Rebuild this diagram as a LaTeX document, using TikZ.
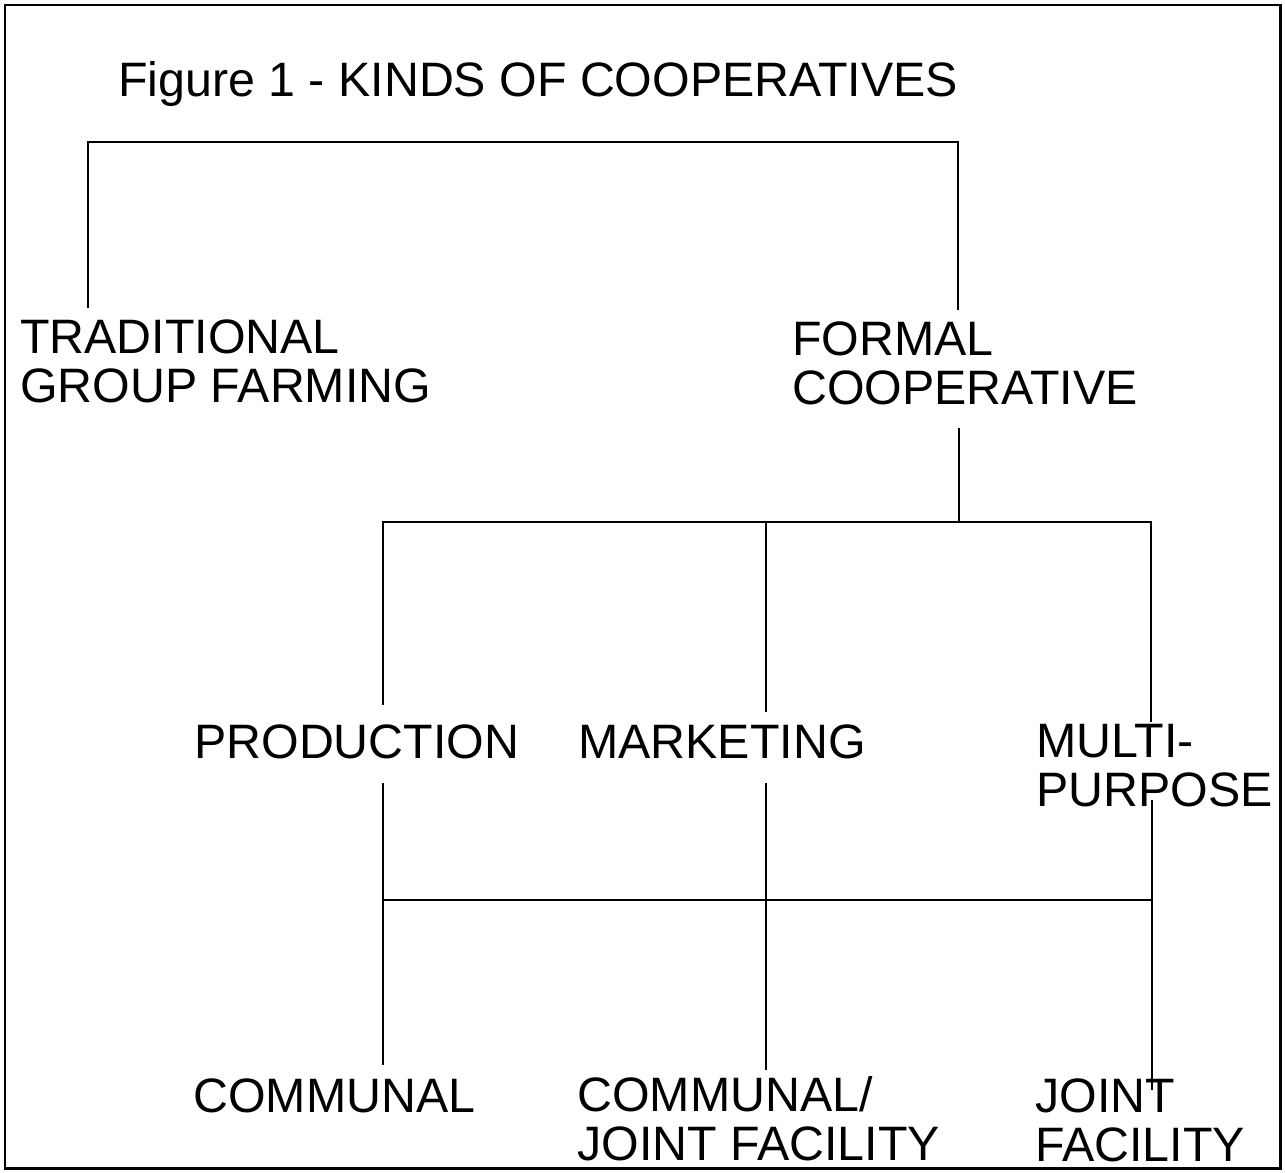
\documentclass[tikz,border=0pt]{standalone}
\usepackage{fontspec}
\setmainfont{Liberation Sans}
\tikzset{
  kind/.style={anchor=base west, inner sep=0pt, align=left, font=\fontsize{27.5}{27.5}\selectfont},
  tie/.style={line width=1.4pt},
  frame/.style={line width=1.7pt}
}

\begin{document}
\begin{tikzpicture}[x=0.02cm, y=-0.02cm]
  \useasboundingbox (0,0) rectangle (1285,1173);
  \draw[frame] (5,5) rectangle (1280,1168);

  \node[kind] (title) at (118,96) {Figure 1 - KINDS OF COOPERATIVES};
  \node[kind] (trad) at (20,402) {TRADITIONAL\\GROUP FARMING};
  \node[kind] (formal) at (792,404) {FORMAL\\COOPERATIVE};
  \node[kind] (prod) at (194,758) {PRODUCTION};
  \node[kind] (mark) at (578,758) {MARKETING};
  \node[kind] (multi) at (1036,806) {MULTI-\\PURPOSE};
  \node[kind] (communal) at (193,1112) {COMMUNAL};
  \node[kind] (comjoint) at (577,1160) {COMMUNAL/\\JOINT FACILITY};
  \node[kind] (joint) at (1035,1161) {JOINT\\FACILITY};

  \coordinate (crown) at (500,142);
  \coordinate (tradup) at (88,308);
  \coordinate (formalup) at (958,310);
  \coordinate (formaldown) at (959,428);
  \coordinate (split) at (959,522);
  \coordinate (produp) at (383,705);
  \coordinate (markup) at (766,712);
  \coordinate (multiup) at (1151,722);
  \coordinate (proddown) at (383,783);
  \coordinate (markdown) at (766,783);
  \coordinate (multidown) at (1152,800);
  \coordinate (merge) at (766,900);
  \coordinate (communalup) at (383,1065);
  \coordinate (comjointup) at (766,1070);
  \coordinate (jointup) at (1152,1090);

  \draw[tie] (tradup) |- (crown) -| (formalup);
  \draw[tie] (formaldown) -- (split);
  \draw[tie] (produp) |- (split) -| (multiup);
  \draw[tie] (markup) -- (markup |- split);
  \draw[tie] (proddown) -- (communalup);
  \draw[tie] (markdown) -- (comjointup);
  \draw[tie] (multidown) -- (jointup);
  \draw[tie] (proddown |- merge) -- (multidown |- merge);
\end{tikzpicture}
\end{document}
